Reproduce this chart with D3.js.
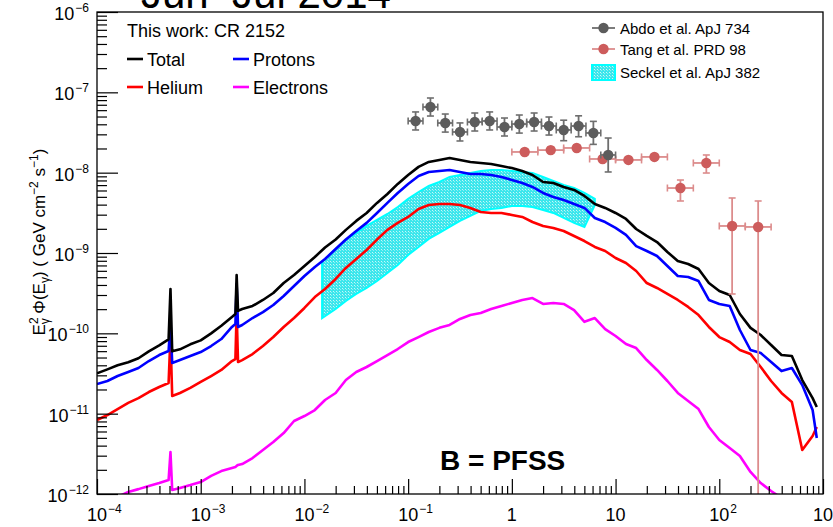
<!DOCTYPE html>
<html><head><meta charset="utf-8">
<script src="https://cdn.jsdelivr.net/npm/d3@7"></script>
<style>
body{margin:0;background:#fff}
svg{display:block}
text{font-family:"Liberation Sans",Arial,Helvetica,sans-serif;fill:#000}
</style>
</head><body>
<svg id="chart" width="833" height="527"></svg>
<script>
// ---------------- data ----------------
const energy = [1.00e-4,1.26e-4,1.58e-4,2.00e-4,2.51e-4,3.16e-4,3.98e-4,4.90e-4,5.11e-4,5.31e-4,
6.31e-4,7.94e-4,1.00e-3,1.26e-3,1.58e-3,2.00e-3,2.16e-3,2.22e-3,2.29e-3,
2.51e-3,3.16e-3,3.98e-3,5.01e-3,6.31e-3,7.94e-3,
0.0100,0.0126,0.0158,0.0200,0.0251,0.0316,0.0398,0.0501,0.0631,0.0794,
0.100,0.126,0.158,0.200,0.251,0.316,0.398,0.501,0.631,0.794,
1.00,1.26,1.58,2.00,2.51,3.16,3.98,5.01,6.31,7.94,
10.0,12.6,15.8,20.0,25.1,31.6,39.8,50.1,63.1,79.4,
100,126,158,200,251,316,398,501,631,794,871];

const total = [3.18e-11,3.56e-11,4.00e-11,4.36e-11,4.89e-11,5.97e-11,7.09e-11,
8.42e-11,3.56e-10,5.97e-11,
6.32e-11,7.30e-11,8.18e-11,1.00e-10,1.24e-10,1.60e-10,
1.74e-10,5.32e-10,1.90e-10,
2.01e-10,2.19e-10,2.60e-10,3.18e-10,4.23e-10,5.32e-10,
6.89e-10,8.92e-10,1.17e-9,1.47e-9,1.94e-9,2.51e-9,3.15e-9,4.20e-9,5.43e-9,7.24e-9,
9.36e-9,1.18e-8,1.36e-8,1.44e-8,1.52e-8,1.44e-8,1.36e-8,1.32e-8,1.28e-8,1.21e-8,
1.14e-8,1.05e-8,9.36e-9,7.66e-9,7.44e-9,6.64e-9,6.09e-9,5.13e-9,4.08e-9,3.64e-9,
3.15e-9,2.65e-9,1.99e-9,1.63e-9,1.37e-9,1.03e-9,7.95e-10,7.30e-10,6.32e-10,4.23e-10,
3.37e-10,3.00e-10,1.74e-10,1.17e-10,9.52e-11,7.15e-11,5.37e-11,5.22e-11,2.62e-11,1.56e-11,
1.21e-11];

const protons = [2.34e-11,2.55e-11,2.94e-11,3.30e-11,3.70e-11,4.52e-11,5.37e-11,
6.02e-11,1.39e-10,4.27e-11,
4.65e-11,5.22e-11,5.85e-11,6.95e-11,8.49e-11,1.20e-10,
1.31e-10,4.11e-10,1.20e-10,
1.27e-10,1.55e-10,1.84e-10,2.25e-10,2.92e-10,3.89e-10,
5.17e-10,6.70e-10,8.42e-10,1.12e-9,1.47e-9,1.88e-9,2.37e-9,3.15e-9,4.20e-9,5.59e-9,
7.24e-9,9.10e-9,1.02e-8,1.05e-8,1.08e-8,1.02e-8,9.63e-9,9.63e-9,9.36e-9,8.84e-9,
8.11e-9,7.44e-9,6.64e-9,5.59e-9,4.98e-9,4.57e-9,4.08e-9,3.64e-9,2.73e-9,2.43e-9,
2.05e-9,1.68e-9,1.22e-9,1.06e-9,9.18e-10,6.89e-10,5.17e-10,5.03e-10,4.48e-10,2.60e-10,
2.32e-10,2.19e-10,1.10e-10,6.20e-11,5.69e-11,4.39e-11,3.39e-11,3.70e-11,2.27e-11,1.11e-11,
4.98e-12];

const helium = [8.34e-12,9.62e-12,1.14e-11,1.36e-11,1.56e-11,1.86e-11,2.15e-11,
2.41e-11,9.26e-11,1.66e-11,
1.81e-11,2.09e-11,2.48e-11,2.94e-11,3.50e-11,4.52e-11,
4.79e-11,1.84e-10,4.39e-11,
4.65e-11,5.52e-11,6.95e-11,8.99e-11,1.20e-10,1.55e-10,
2.07e-10,2.83e-10,3.56e-10,4.75e-10,6.51e-10,8.42e-10,1.09e-9,1.47e-9,1.94e-9,2.37e-9,
2.81e-9,3.53e-9,3.96e-9,4.08e-9,4.08e-9,3.96e-9,3.64e-9,3.24e-9,3.15e-9,3.15e-9,
2.98e-9,2.81e-9,2.43e-9,2.17e-9,2.05e-9,1.88e-9,1.63e-9,1.41e-9,1.19e-9,1.06e-9,
8.67e-10,7.51e-10,5.97e-10,4.23e-10,3.67e-10,3.09e-10,2.60e-10,2.13e-10,1.69e-10,1.20e-10,
8.99e-11,7.79e-11,6.20e-11,5.52e-11,3.81e-11,2.55e-11,1.81e-11,1.40e-11,3.53e-12,5.27e-12,
6.82e-12];

const electrons = [7.3e-13,8.42e-13,9.18e-13,1.06e-12,1.15e-12,1.26e-12,1.37e-12,
1.49e-12,3.33e-12,1.12e-12,
1.19e-12,1.29e-12,1.41e-12,1.68e-12,1.93e-12,2.11e-12,
2.17e-12,2.24e-12,2.30e-12,
2.36e-12,2.80e-12,3.53e-12,4.44e-12,5.74e-12,8.10e-12,
9.35e-12,1.11e-11,1.48e-11,1.81e-11,2.62e-11,3.30e-11,3.81e-11,4.52e-11,5.37e-11,6.38e-11,
7.79e-11,8.99e-11,1.04e-10,1.17e-10,1.27e-10,1.51e-10,1.69e-10,1.79e-10,2.01e-10,2.19e-10,
2.39e-10,2.60e-10,2.75e-10,2.32e-10,2.39e-10,2.32e-10,1.95e-10,1.39e-10,1.55e-10,1.13e-10,
9.26e-11,7.36e-11,6.56e-11,4.65e-11,3.50e-11,2.55e-11,1.81e-11,1.44e-11,1.14e-11,6.82e-12,
4.70e-12,3.74e-12,2.97e-12,1.88e-12,1.37e-12,1.09e-12,8.9e-13,null,null,null,
null];

// Seckel et al. band
const bandEnergy = [0.0148,0.0200,0.0251,0.0316,0.0398,0.0501,0.0631,0.0794,0.100,0.126,0.158,0.200,0.251,0.316,0.398,0.501,0.631,0.794,1.00,1.26,1.58,2.00,2.51,3.16,3.98,5.01,6.31];
const bandHigh = [7.73e-10,1.12e-9,1.47e-9,1.78e-9,2.17e-9,2.58e-9,3.06e-9,3.74e-9,4.71e-9,5.75e-9,6.83e-9,7.66e-9,8.84e-9,9.36e-9,9.91e-9,1.05e-8,1.08e-8,1.08e-8,1.05e-8,1.02e-8,9.91e-9,8.84e-9,7.88e-9,7.03e-9,6.45e-9,5.59e-9,4.71e-9];
const bandLow = [1.55e-10,2.01e-10,2.53e-10,3.09e-10,3.67e-10,4.48e-10,5.64e-10,7.09e-10,9.44e-10,1.19e-9,1.50e-9,1.78e-9,2.11e-9,2.51e-9,2.89e-9,3.34e-9,3.53e-9,3.64e-9,3.85e-9,3.85e-9,3.74e-9,3.43e-9,3.15e-9,2.73e-9,2.37e-9,2.11e-9,3.96e-9];

// Abdo et al. ApJ 734
const abdoEdges = [0.100,0.139,0.193,0.268,0.373,0.518,0.720,1.00,1.39,1.93,2.68,3.73,5.18,7.20,10.0];
const abdoE = [0.118,0.164,0.228,0.316,0.439,0.611,0.849,1.18,1.64,2.28,3.16,4.40,6.11,8.49];
const abdoFlux = [4.40e-8,6.56e-8,4.15e-8,3.21e-8,4.27e-8,4.40e-8,3.70e-8,4.03e-8,4.27e-8,3.81e-8,3.40e-8,3.81e-8,3.12e-8,1.66e-8];
const abdoLo = [3.40e-8,5.07e-8,3.20e-8,2.48e-8,3.30e-8,3.40e-8,2.86e-8,3.11e-8,3.30e-8,2.94e-8,2.50e-8,2.80e-8,2.25e-8,1.02e-8];
const abdoHi = [5.70e-8,8.50e-8,5.37e-8,4.16e-8,5.53e-8,5.70e-8,4.79e-8,5.22e-8,5.53e-8,4.93e-8,4.50e-8,5.10e-8,4.35e-8,2.70e-8];

// Tang et al. PRD 98
const tangEdges = [1.00,1.78,3.16,5.62,10.0,17.8,31.6,56.2,100,178,316];
const tangE = [1.33,2.37,4.22,7.50,13.3,23.7,42.2,75.0,133,237];
const tangFlux = [1.81e-8,1.91e-8,2.03e-8,1.48e-8,1.44e-8,1.57e-8,6.44e-9,1.32e-8,2.17e-9,2.11e-9];
const tangLo = [1.66e-8,1.75e-8,1.86e-8,1.36e-8,1.32e-8,1.44e-8,4.44e-9,9.9e-9,3.09e-10,1e-13];
const tangHi = [1.97e-8,2.08e-8,2.21e-8,1.61e-8,1.57e-8,1.71e-8,8.1e-9,1.66e-8,4.84e-9,4.44e-9];

// axes
const xTickValues = [1e-4,1e-3,1e-2,1e-1,1,10,1e2,1e3];
const xTickLabels = ["10|−4","10|−3","10|−2","10|−1","1","10","10|2","10|3"];
const yTickValues = [1e-12,1e-11,1e-10,1e-9,1e-8,1e-7,1e-6];
const yTickLabels = ["10|−12","10|−11","10|−10","10|−9","10|−8","10|−7","10|−6"];

// ---------------- drawing ----------------
const svg = d3.select("#chart");
const L = 97, R = 823, T = 12, B = 494;
const x = d3.scaleLog().domain([1e-4, 1e3]).range([L, R]);
const y = d3.scaleLog().domain([1e-12, 1e-6]).range([B, T]);

const defs = svg.append("defs");
defs.append("clipPath").attr("id","plotclip").append("rect")
  .attr("x",L).attr("y",T).attr("width",R-L).attr("height",B-T);
const pat = defs.append("pattern").attr("id","dots").attr("patternUnits","userSpaceOnUse")
  .attr("width",3).attr("height",3);
pat.append("rect").attr("width",3).attr("height",3).attr("fill","#3ce6ec").attr("shape-rendering","crispEdges");
pat.append("rect").attr("width",1).attr("height",1).attr("fill","#c8f8f8").attr("shape-rendering","crispEdges");
pat.append("rect").attr("x",1).attr("y",1).attr("width",1).attr("height",1).attr("fill","#8ff0f2").attr("shape-rendering","crispEdges");

// title (partly outside)
svg.append("text").attr("x",141).attr("y",8).attr("font-size",42)
  .style("white-space","pre").text("Jun  Jul 2014");

const plot = svg.append("g").attr("clip-path","url(#plotclip)");

// band
const area = d3.area().x(d=>x(d[0])).y0(d=>y(d[1])).y1(d=>y(d[2]));
const bandData = bandEnergy.map((e,i)=>[e,bandLow[i],bandHigh[i]]);
plot.append("path").datum(bandData).attr("d",area).attr("fill","#3ce6ec");
plot.append("path").datum(bandData).attr("d",area)
  .attr("fill","url(#dots)").attr("stroke","#00ffff").attr("stroke-width",2);

// curves
const line = d3.line().defined(d=>d[1]!=null).x(d=>x(d[0])).y(d=>y(d[1]));
const series = [
  {v:electrons,c:"#ff00ff"},
  {v:helium,c:"#ff0000"},
  {v:protons,c:"#0000ff"},
  {v:total,c:"#000000"}
];
series.forEach(s=>{
  plot.append("path").datum(energy.map((e,i)=>[e,s.v[i]])).attr("d",line)
    .attr("fill","none").attr("stroke",s.c).attr("stroke-width",2.6)
    .attr("stroke-linejoin","round");
});

// data points with error bars
function drawPoints(E, F, lo, hi, edges, barColor, markColor){
  const g = plot.append("g");
  E.forEach((e,i)=>{
    const cx = x(e), cy = y(F[i]);
    const x0 = x(edges[i]), x1 = x(edges[i+1]);
    const y0 = y(lo[i]), y1 = y(hi[i]);
    g.append("line").attr("x1",x0).attr("x2",x1).attr("y1",cy).attr("y2",cy)
      .attr("stroke",barColor).attr("stroke-width",1.8);
    g.append("line").attr("x1",cx).attr("x2",cx).attr("y1",y0).attr("y2",y1)
      .attr("stroke",barColor).attr("stroke-width",1.8);
    [x0,x1].forEach(xx=>g.append("line").attr("x1",xx).attr("x2",xx).attr("y1",cy-3.5).attr("y2",cy+3.5)
      .attr("stroke",barColor).attr("stroke-width",1.6));
    [y0,y1].forEach(yy=>g.append("line").attr("x1",cx-3.5).attr("x2",cx+3.5).attr("y1",yy).attr("y2",yy)
      .attr("stroke",barColor).attr("stroke-width",1.6));
    g.append("circle").attr("cx",cx).attr("cy",cy).attr("r",5.2).attr("fill",markColor);
  });
}
drawPoints(tangE, tangFlux, tangLo, tangHi, tangEdges, "#dc8c8c", "#cd5c5c");
drawPoints(abdoE, abdoFlux, abdoLo, abdoHi, abdoEdges, "#6e6e6e", "#5c5c5c");

// axes ticks (inside)
const xMinor = [], yMinor = [];
xTickValues.slice(0,-1).forEach(t=>{ for(let k=2;k<=9;k++) xMinor.push(t*k); });
yTickValues.slice(0,-1).forEach(t=>{ for(let k=2;k<=9;k++) yMinor.push(t*k); });

const ax = svg.append("g").attr("transform",`translate(0,${B})`);
ax.call(d3.axisBottom(x).tickValues(xTickValues).tickSize(-15).tickFormat(""));
ax.call(g=>g.select(".domain").remove());
const axm = svg.append("g").attr("transform",`translate(0,${B})`);
axm.call(d3.axisBottom(x).tickValues(xMinor).tickSize(-8).tickFormat(""));
axm.call(g=>g.select(".domain").remove());

const ay = svg.append("g").attr("transform",`translate(${L},0)`);
ay.call(d3.axisLeft(y).tickValues(yTickValues).tickSize(-21).tickFormat(""));
ay.call(g=>g.select(".domain").remove());
const aym = svg.append("g").attr("transform",`translate(${L},0)`);
aym.call(d3.axisLeft(y).tickValues(yMinor).tickSize(-10).tickFormat(""));
aym.call(g=>g.select(".domain").remove());
svg.selectAll(".tick line").attr("stroke","#000").attr("stroke-width",1.2);

// frame
svg.append("rect").attr("x",L).attr("y",T).attr("width",R-L).attr("height",B-T)
  .attr("fill","none").attr("stroke","#000").attr("stroke-width",1.3);

// x tick labels
xTickValues.forEach((t,i)=>{
  const parts = xTickLabels[i].split("|");
  const tx = x(t);
  if(parts.length===1){
    svg.append("text").attr("x",tx).attr("y",521).attr("font-size",18)
      .attr("text-anchor","middle").text(parts[0]);
  } else {
    const tt = svg.append("text").attr("x",tx-10).attr("y",521).attr("font-size",18);
    tt.append("tspan").text(parts[0]);
    tt.append("tspan").attr("font-size",12).attr("dy",-8).attr("dx",1).text(parts[1]);
  }
});
// y tick labels
yTickValues.forEach((t,i)=>{
  const parts = yTickLabels[i].split("|");
  const tt = svg.append("text").attr("x",89).attr("y",y(t)+8).attr("font-size",18)
    .attr("text-anchor","end");
  tt.append("tspan").text(parts[0]);
  tt.append("tspan").attr("font-size",12).attr("dy",-8).attr("dx",1).text(parts[1]);
});

// y axis title
const yt = svg.append("text").attr("transform","translate(45,242) rotate(-90)")
  .attr("text-anchor","middle").attr("font-size",17);
yt.append("tspan").text("E");
yt.append("tspan").attr("font-size",12).attr("dy",-7).text("2");
yt.append("tspan").attr("font-size",12).attr("dx",-7).attr("dy",11).text("γ");
yt.append("tspan").attr("dy",-4).text(" Φ(E");
yt.append("tspan").attr("font-size",12).attr("dy",4).text("γ");
yt.append("tspan").attr("dy",-4).text(") ( GeV cm");
yt.append("tspan").attr("font-size",12).attr("dy",-7).text("−2");
yt.append("tspan").attr("dy",7).text(" s");
yt.append("tspan").attr("font-size",12).attr("dy",-7).text("−1");
yt.append("tspan").attr("dy",7).text(")");

// left legend
svg.append("text").attr("x",127).attr("y",37).attr("font-size",18).text("This work: CR 2152");
const legL = [
  {t:"Total",c:"#000000",lx:127,ly:59},
  {t:"Protons",c:"#0000ff",lx:233,ly:59},
  {t:"Helium",c:"#ff0000",lx:127,ly:87},
  {t:"Electrons",c:"#ff00ff",lx:233,ly:87}
];
legL.forEach(d=>{
  svg.append("line").attr("x1",d.lx).attr("x2",d.lx+16).attr("y1",d.ly).attr("y2",d.ly)
    .attr("stroke",d.c).attr("stroke-width",2.6);
  svg.append("text").attr("x",d.lx+20).attr("y",d.ly+6.5).attr("font-size",18).text(d.t);
});

// right legend
const legR = [
  {t:"Abdo et al. ApJ 734",bar:"#6e6e6e",mk:"#5c5c5c",ly:28},
  {t:"Tang et al. PRD 98",bar:"#dc8c8c",mk:"#cd5c5c",ly:49}
];
legR.forEach(d=>{
  svg.append("line").attr("x1",592).attr("x2",615).attr("y1",d.ly).attr("y2",d.ly)
    .attr("stroke",d.bar).attr("stroke-width",1.8);
  svg.append("circle").attr("cx",603.5).attr("cy",d.ly).attr("r",5.2).attr("fill",d.mk);
  svg.append("text").attr("x",620).attr("y",d.ly+5.5).attr("font-size",15).text(d.t);
});
svg.append("rect").attr("x",592).attr("y",65).attr("width",23).attr("height",15)
  .attr("fill","#3ce6ec");
svg.append("rect").attr("x",592).attr("y",65).attr("width",23).attr("height",15)
  .attr("fill","url(#dots)").attr("stroke","#00ffff").attr("stroke-width",2);
svg.append("text").attr("x",620).attr("y",77.5).attr("font-size",15).text("Seckel et al. ApJ 382");

// annotation
svg.append("text").attr("x",440).attr("y",470).attr("font-size",28).attr("font-weight","bold")
  .text("B = PFSS");
</script>
</body></html>
